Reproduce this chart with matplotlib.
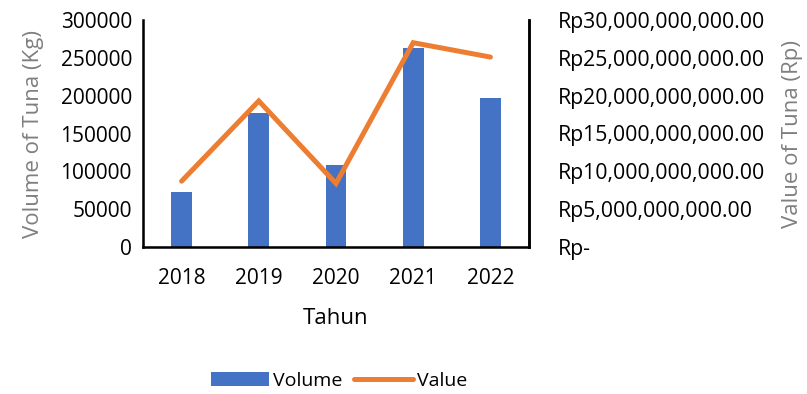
import matplotlib.pyplot as plt
import numpy as np
from matplotlib.ticker import FuncFormatter

plt.rcParams['font.family'] = ['Open Sans', 'DejaVu Sans']

years = ['2018', '2019', '2020', '2021', '2022']
volume_kg = [73000, 177500, 108500, 263500, 197000]
value_rp = [8.7e9, 19.3e9, 8.4e9, 27.0e9, 25.1e9]

blue = '#4472C4'
orange = '#ED7D31'
grey = '#7F7F7F'

fig = plt.figure(figsize=(8.07, 3.94), dpi=100)
ax = fig.add_axes([143 / 807, 1 - 247 / 394, (529 - 143) / 807, (247 - 20) / 394])
x = np.arange(len(years))

bars = ax.bar(x, volume_kg, width=0.27, color=blue, label='Volume', zorder=2)
ax.set_ylim(0, 300000)
ax.set_xlim(-0.5, 4.5)
ax.set_yticks(np.arange(0, 300001, 50000))
ax.set_xticks(x)
ax.set_xticklabels(years)
ax.tick_params(axis='both', length=0, labelsize=15, colors='black')
ax.tick_params(axis='x', pad=15)
ax.tick_params(axis='y', pad=8)
ax.spines['top'].set_visible(False)
for s in ['left', 'bottom', 'right']:
    ax.spines[s].set_linewidth(1.8)
    ax.spines[s].set_color('black')
ax.set_ylabel('Volume of Tuna (Kg)', color=grey, fontsize=16, labelpad=12)
ax.set_xlabel('Tahun', fontsize=16, labelpad=14)

ax2 = ax.twinx()
line, = ax2.plot(x, value_rp, color=orange, linewidth=3.6, label='Value',
                 solid_capstyle='round', solid_joinstyle='miter', zorder=3)
ax2.set_ylim(0, 30e9)
ax2.set_yticks(np.arange(0, 30e9 + 1, 5e9))


def rupiah(v, pos):
    if v == 0:
        return 'Rp-'
    return 'Rp{:,.2f}'.format(v)


ax2.yaxis.set_major_formatter(FuncFormatter(rupiah))
ax2.tick_params(axis='y', length=0, labelsize=15.3, pad=21, colors='black')
ax2.spines['top'].set_visible(False)
ax2.spines['right'].set_linewidth(1.8)
ax2.set_ylabel('Value of Tuna (Rp)', color=grey, fontsize=16, labelpad=12)

fig.legend(handles=[bars, line], labels=['Volume', 'Value'], loc='center',
           bbox_to_anchor=(339 / 807, 1 - 381 / 394), ncol=2, frameon=False,
           fontsize=14, handlelength=3.0, handletextpad=0.2, columnspacing=0.6)

fig.savefig('out.png', dpi=100)
